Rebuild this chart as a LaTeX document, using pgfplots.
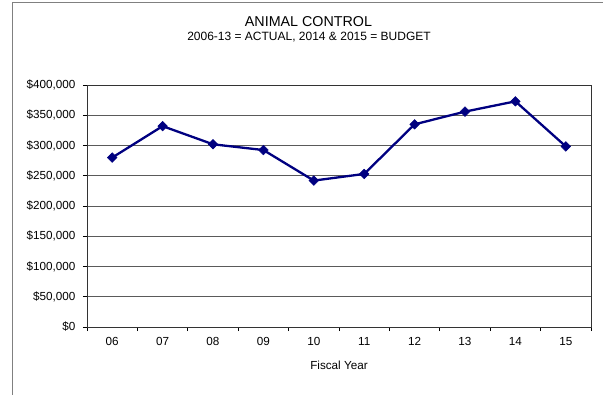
\documentclass[border=0pt]{standalone}
\usepackage{pgfplots}
\pgfplotsset{compat=1.18}
\usepackage{fontspec}
\setmainfont{Liberation Sans}
\definecolor{navyline}{RGB}{0,0,128}
\definecolor{framegray}{RGB}{128,128,128}
\definecolor{gridgray}{RGB}{90,90,90}
\begin{document}
\begin{tikzpicture}[x=1pt,y=1pt]
\path[use as bounding box] (0,0) rectangle (603,394);
\draw[framegray, line width=1pt] (12.5,-2) -- (12.5,391.5) -- (610,391.5);
\node[anchor=base, font=\fontsize{14.3}{17}\selectfont] at (308.5,367) {ANIMAL CONTROL};
\node[anchor=base, font=\fontsize{12}{14}\selectfont] at (309,353) {2006-13 = ACTUAL, 2014 \& 2015 = BUDGET};
\begin{axis}[
  at={(87pt,67pt)}, anchor=south west,
  scale only axis, width=504pt, height=242pt,
  xmin=0, xmax=10, ymin=0, ymax=400000,
  xtick={0,1,...,10},
  x tick label as interval,
  xticklabels={06,07,08,09,10,11,12,13,14,15},
  ytick={0,50000,...,400000},
  scaled y ticks=false,
  yticklabel={\$\pgfmathprintnumber[fixed,precision=0,1000 sep={,}]{\tick}},
  /pgf/number format/assume math mode=true,
  tick label style={font=\fontsize{11.7}{14}\selectfont},
  xticklabel style={yshift=-3pt},
  yticklabel style={xshift=-4pt},
  xtick pos=bottom, ytick pos=left,
  tick align=outside,
  major tick length=4pt,
  tick style={black, line width=0.8pt},
  ymajorgrids,
  major grid style={gridgray, line width=0.9pt},
  axis line style={black!80, line width=0.9pt},
  xlabel={Fiscal Year},
  xlabel style={font=\fontsize{11.7}{14}\selectfont, yshift=-8pt},
  clip=false,
]
\addplot[navyline, line width=2.3pt, mark=square*, mark size=3.4pt,
  mark options={rotate=45, fill=navyline, draw=navyline, line width=0.5pt}]
  coordinates {
  (0.5,280000) (1.5,332000) (2.5,302000) (3.5,292500) (4.5,242000)
  (5.5,253000) (6.5,335000) (7.5,356000) (8.5,373000) (9.5,298500)
  };
\end{axis}
\end{tikzpicture}
\end{document}
